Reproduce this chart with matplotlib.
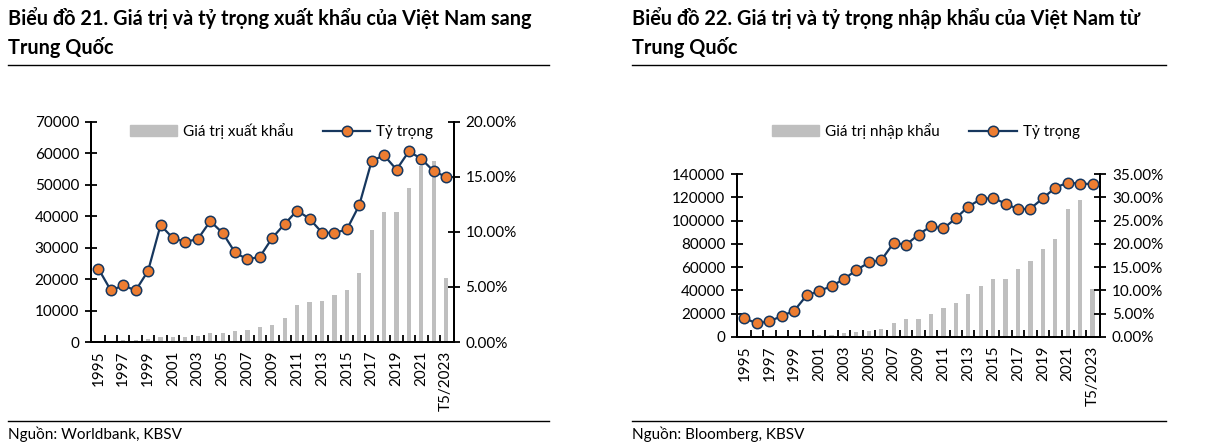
import matplotlib
matplotlib.use("Agg")
import matplotlib.pyplot as plt
from matplotlib.lines import Line2D
from matplotlib.patches import Patch

plt.rcParams['font.family'] = ['Lato', 'DejaVu Sans']

categories = [str(y) for y in range(1995, 2023)] + ["T5/2023"]

export_value = [300, 100, 500, 500, 850, 1600, 1600, 1600, 1900, 3000, 3000, 3400, 3800,
                4900, 5400, 7700, 11650, 12700, 13100, 15000, 16600, 21900, 35500, 41400,
                41400, 48900, 55900, 57700, 20300]
export_share = [6.66, 4.69, 5.14, 4.69, 6.47, 10.62, 9.44, 9.11, 9.35, 10.98, 9.92, 8.14,
                7.50, 7.75, 9.47, 10.74, 11.95, 11.20, 9.95, 9.92, 10.23, 12.44, 16.46,
                16.97, 15.67, 17.34, 16.64, 15.52, 15.01]

import_value = [300, 300, 400, 500, 700, 1100, 1400, 2000, 3100, 4600, 5400, 7100, 12300,
                15400, 15100, 20000, 24600, 28900, 36600, 43400, 49400, 50000, 58600,
                65400, 75400, 84000, 110000, 117700, 41100]
import_share = [4.0, 2.93, 3.36, 4.5, 5.64, 8.93, 9.86, 10.93, 12.43, 14.36, 16.0, 16.5,
                20.2, 19.8, 22.0, 23.8, 23.3, 25.5, 28.0, 29.6, 29.86, 28.64, 27.43,
                27.57, 29.79, 32.07, 33.14, 32.93, 32.86]

BAR = "#BFBFBF"
NAVY = "#17375E"
ORANGE = "#ED7D31"
TICKFS = 11

fig = plt.figure(figsize=(12.13, 4.48), dpi=100)


def draw(rect, values, shares, ymax, ystep, pmax, pstep, bar_label):
    ax = fig.add_axes(rect)
    ax2 = ax.twinx()
    x = list(range(len(categories)))
    ax.bar(x, values, width=0.34, color=BAR, zorder=2)
    ax2.plot(x, shares, color=NAVY, lw=1.6, marker='o', ms=7.5, mfc=ORANGE,
             mec=NAVY, mew=1.1, zorder=3)
    ax.set_xlim(-0.6, len(categories) - 0.4)
    ax.set_ylim(0, ymax)
    ax2.set_ylim(0, pmax)
    ax.set_yticks(range(0, ymax + 1, ystep))
    ax.set_yticklabels([str(v) for v in range(0, ymax + 1, ystep)], fontsize=TICKFS)
    pt = [i * pstep for i in range(int(round(pmax / pstep)) + 1)]
    ax2.set_yticks(pt)
    ax2.set_yticklabels([f"{p:.2f}%" for p in pt], fontsize=TICKFS)
    ax.set_xticks([i + 0.5 for i in range(len(categories) - 1)])
    ax.set_xticklabels([])
    ax.set_xticks(x[::2], minor=True)
    ax.set_xticklabels(categories[::2], minor=True, rotation=90, fontsize=TICKFS)
    ax.tick_params(axis='x', which='major', direction='in', length=5, width=1.3)
    ax.tick_params(axis='x', which='minor', length=0, pad=6)
    ax.tick_params(axis='y', direction='inout', length=9, width=1.3, pad=4)
    ax2.tick_params(axis='y', direction='inout', length=9, width=1.3, pad=4)
    for a in (ax, ax2):
        a.spines['top'].set_visible(False)
        for s in ('left', 'right', 'bottom'):
            a.spines[s].set_linewidth(1.4)
    ax.patch.set_visible(False)
    ax2.set_zorder(ax.get_zorder() + 1)
    handles = [Patch(color=BAR, label=bar_label),
               Line2D([], [], color=NAVY, lw=1.6, marker='o', ms=7.5, mfc=ORANGE,
                      mec=NAVY, mew=1.1, label="Tỷ trọng")]
    return ax, ax2, handles


LEG = dict(ncol=2, frameon=False, fontsize=TICKFS, handlelength=3.1, columnspacing=1.9,
           handletextpad=0.4, borderpad=0, borderaxespad=0, loc='center left')

ax, ax2, h = draw([0.0750, 0.2366, 0.2990, 0.4911], export_value, export_share,
                  70000, 10000, 20, 5, "Giá trị xuất khẩu")
fig.legend(handles=h, bbox_to_anchor=(130 / 1213, 1 - 131 / 448), **LEG)

bx, bx2, h2 = draw([0.6076, 0.2478, 0.2993, 0.3638], import_value, import_share,
                   140000, 20000, 35, 5, "Giá trị nhập khẩu")
fig.legend(handles=h2, bbox_to_anchor=(772 / 1213, 1 - 131 / 448), **LEG)

# Titles, rules and sources
TFS = 14.3
fig.text(8 / 1213, 1 - 18 / 448, "Biểu đồ 21. Giá trị và tỷ trọng xuất khẩu của Việt Nam sang",
         fontsize=TFS, fontweight='bold', va='center', ha='left')
fig.text(8 / 1213, 1 - 48 / 448, "Trung Quốc", fontsize=TFS, fontweight='bold',
         va='center', ha='left')
fig.text(632 / 1213, 1 - 18 / 448, "Biểu đồ 22. Giá trị và tỷ trọng nhập khẩu của Việt Nam từ",
         fontsize=TFS, fontweight='bold', va='center', ha='left')
fig.text(632 / 1213, 1 - 48 / 448, "Trung Quốc", fontsize=TFS, fontweight='bold',
         va='center', ha='left')

for (x0, x1) in ((8, 549), (632, 1166)):
    for y in (65, 421):
        fig.add_artist(Line2D([x0 / 1213, x1 / 1213], [1 - y / 448, 1 - y / 448],
                              color='black', lw=1.0, transform=fig.transFigure))

fig.text(8 / 1213, 1 - 434 / 448, "Nguồn: Worldbank, KBSV", fontsize=11, va='center', ha='left')
fig.text(632 / 1213, 1 - 434 / 448, "Nguồn: Bloomberg, KBSV", fontsize=11, va='center', ha='left')

fig.savefig("out.png", dpi=100)
